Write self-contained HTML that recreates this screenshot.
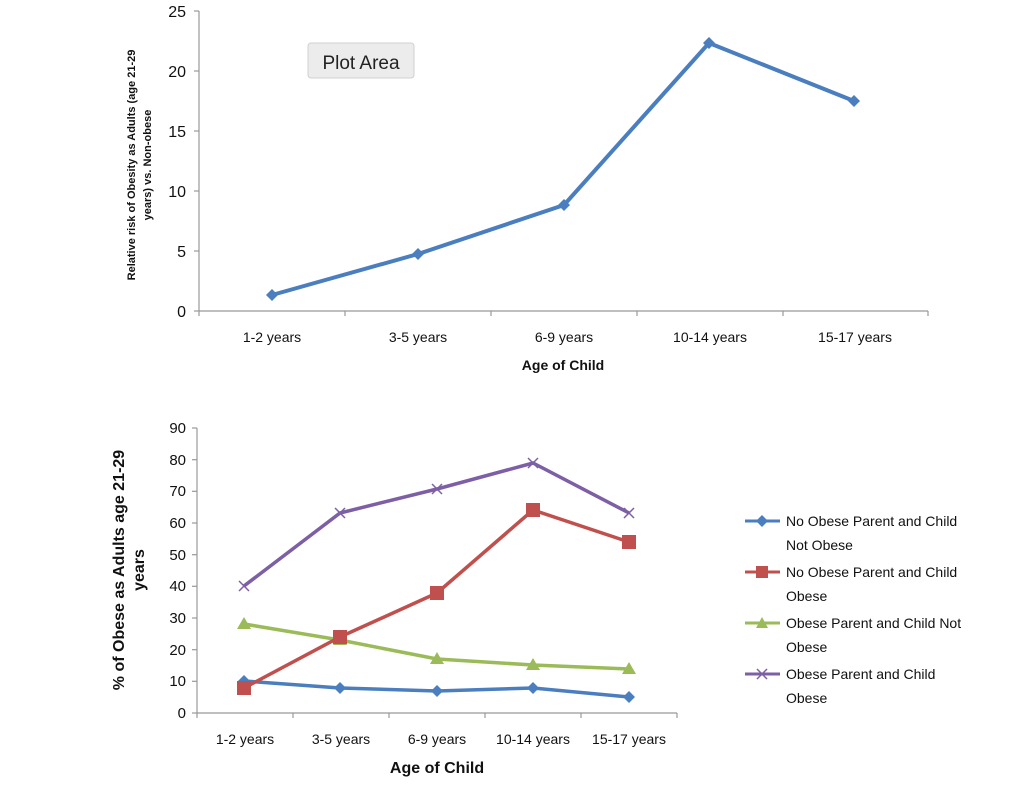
<!DOCTYPE html>
<html><head><meta charset="utf-8"><style>
body{margin:0;background:#fff;width:1024px;height:780px;overflow:hidden}
svg text{font-family:"Liberation Sans",sans-serif}
</style></head><body>
<svg width="1024" height="780" xmlns="http://www.w3.org/2000/svg">
<g font-size="15" fill="#111">
<line x1="199" y1="11" x2="199" y2="311" stroke="#999" stroke-width="1.2"/>
<line x1="199" y1="311" x2="928" y2="311" stroke="#999" stroke-width="1.2"/>
<g stroke="#999" stroke-width="1.2">
<line x1="194" y1="11" x2="199" y2="11"/><line x1="194" y1="71" x2="199" y2="71"/><line x1="194" y1="131" x2="199" y2="131"/><line x1="194" y1="191" x2="199" y2="191"/><line x1="194" y1="251" x2="199" y2="251"/><line x1="194" y1="311" x2="199" y2="311"/>
<line x1="199" y1="311" x2="199" y2="316"/><line x1="345" y1="311" x2="345" y2="316"/><line x1="491" y1="311" x2="491" y2="316"/><line x1="637" y1="311" x2="637" y2="316"/><line x1="783" y1="311" x2="783" y2="316"/><line x1="928" y1="311" x2="928" y2="316"/>
</g>
<g text-anchor="end" font-size="16"><text x="186" y="17">25</text><text x="186" y="77">20</text><text x="186" y="137">15</text><text x="186" y="197">10</text><text x="186" y="257">5</text><text x="186" y="317">0</text></g>
<g text-anchor="middle" font-size="14"><text x="272" y="342">1-2 years</text><text x="418" y="342">3-5 years</text><text x="564" y="342">6-9 years</text><text x="710" y="342">10-14 years</text><text x="855" y="342">15-17 years</text></g>
<text x="563" y="370" text-anchor="middle" font-weight="bold" font-size="14">Age of Child</text>
<text transform="translate(135,165) rotate(-90)" text-anchor="middle" font-weight="bold" font-size="11">Relative risk of Obesity  as Adults (age 21-29</text>
<text transform="translate(151,165) rotate(-90)" text-anchor="middle" font-weight="bold" font-size="11">years) vs. Non-obese</text>
<polyline points="272,295 418,254 564,205 709,43 854,101" fill="none" stroke="#4a7ebf" stroke-width="4"/>
<g fill="#4a7ebf"><path d="M272,289l6,6-6,6-6-6z"/><path d="M418,248l6,6-6,6-6-6z"/><path d="M564,199l6,6-6,6-6-6z"/><path d="M709,37l6,6-6,6-6-6z"/><path d="M854,95l6,6-6,6-6-6z"/></g>
<rect x="308" y="43" width="106" height="35" rx="3" fill="#ececec" stroke="#d0d0d0"/>
<text x="361" y="69" text-anchor="middle" font-size="19" fill="#222">Plot Area</text>
</g>
<g fill="#111">
<line x1="197" y1="428" x2="197" y2="713" stroke="#999" stroke-width="1.2"/>
<line x1="197" y1="713" x2="677" y2="713" stroke="#999" stroke-width="1.2"/>
<g stroke="#999" stroke-width="1.2">
<line x1="192" y1="428" x2="197" y2="428"/><line x1="192" y1="459.7" x2="197" y2="459.7"/><line x1="192" y1="491.3" x2="197" y2="491.3"/><line x1="192" y1="523" x2="197" y2="523"/><line x1="192" y1="554.7" x2="197" y2="554.7"/><line x1="192" y1="586.3" x2="197" y2="586.3"/><line x1="192" y1="618" x2="197" y2="618"/><line x1="192" y1="649.7" x2="197" y2="649.7"/><line x1="192" y1="681.3" x2="197" y2="681.3"/><line x1="192" y1="713" x2="197" y2="713"/>
<line x1="293" y1="713" x2="293" y2="718"/><line x1="389" y1="713" x2="389" y2="718"/><line x1="485" y1="713" x2="485" y2="718"/><line x1="581" y1="713" x2="581" y2="718"/><line x1="677" y1="713" x2="677" y2="718"/><line x1="197" y1="713" x2="197" y2="718"/>
</g>
<g text-anchor="end" font-size="15"><text x="186" y="433">90</text><text x="186" y="465">80</text><text x="186" y="496">70</text><text x="186" y="528">60</text><text x="186" y="560">50</text><text x="186" y="591">40</text><text x="186" y="623">30</text><text x="186" y="655">20</text><text x="186" y="686">10</text><text x="186" y="718">0</text></g>
<g text-anchor="middle" font-size="14"><text x="245" y="744">1-2 years</text><text x="341" y="744">3-5 years</text><text x="437" y="744">6-9 years</text><text x="533" y="744">10-14 years</text><text x="629" y="744">15-17 years</text></g>
<text x="437" y="773" text-anchor="middle" font-weight="bold" font-size="16">Age of Child</text>
<text transform="translate(124,570) rotate(-90)" text-anchor="middle" font-weight="bold" font-size="16">% of Obese as Adults  age 21-29</text>
<text transform="translate(144,570) rotate(-90)" text-anchor="middle" font-weight="bold" font-size="16">years</text>
<polyline points="244,586 340,513 437,489 533,463 629,513" fill="none" stroke="#7d5fa6" stroke-width="3.5"/>
<polyline points="244,681 340,688 437,691 533,688 629,697" fill="none" stroke="#4a7ebf" stroke-width="3.5"/>
<polyline points="244,624 340,640 437,659 533,665 629,669" fill="none" stroke="#9bbb59" stroke-width="3.5"/>
<polyline points="244,688 340,637 437,593 533,510 629,542" fill="none" stroke="#c0504d" stroke-width="3.5"/>
<g stroke="#7d5fa6" stroke-width="1.5"><path d="M239,581l10,10M249,581l-10,10M335,508l10,10M345,508l-10,10M432,484l10,10M442,484l-10,10M528,458l10,10M538,458l-10,10M624,508l10,10M634,508l-10,10"/></g>
<g fill="#4a7ebf"><path d="M244,675l6,6-6,6-6-6z"/><path d="M340,682l6,6-6,6-6-6z"/><path d="M437,685l6,6-6,6-6-6z"/><path d="M533,682l6,6-6,6-6-6z"/><path d="M629,691l6,6-6,6-6-6z"/></g>
<g fill="#9bbb59"><path d="M244,617l7,12h-14z"/><path d="M340,633l7,12h-14z"/><path d="M437,652l7,12h-14z"/><path d="M533,658l7,12h-14z"/><path d="M629,662l7,12h-14z"/></g>
<g fill="#c0504d"><rect x="237" y="681" width="14" height="14"/><rect x="333" y="630" width="14" height="14"/><rect x="430" y="586" width="14" height="14"/><rect x="526" y="503" width="14" height="14"/><rect x="622" y="535" width="14" height="14"/></g>
<g font-size="14">
<line x1="745" y1="521" x2="780" y2="521" stroke="#4a7ebf" stroke-width="3"/><path d="M762,515l6,6-6,6-6-6z" fill="#4a7ebf"/>
<text x="786" y="526">No Obese Parent and Child</text><text x="786" y="550">Not  Obese</text>
<line x1="745" y1="572" x2="780" y2="572" stroke="#c0504d" stroke-width="3"/><rect x="756" y="566" width="12" height="12" fill="#c0504d"/>
<text x="786" y="577">No Obese Parent and Child</text><text x="786" y="601">Obese</text>
<line x1="745" y1="623" x2="780" y2="623" stroke="#9bbb59" stroke-width="3"/><path d="M762,617l6,11h-12z" fill="#9bbb59"/>
<text x="786" y="628">Obese Parent and Child Not</text><text x="786" y="652">Obese</text>
<line x1="745" y1="674" x2="780" y2="674" stroke="#7d5fa6" stroke-width="3"/><path d="M757,669l10,10M767,669l-10,10" stroke="#7d5fa6" stroke-width="1.5"/>
<text x="786" y="679">Obese Parent and Child</text><text x="786" y="703">Obese</text>
</g>
</g>
</svg>
</body></html>
